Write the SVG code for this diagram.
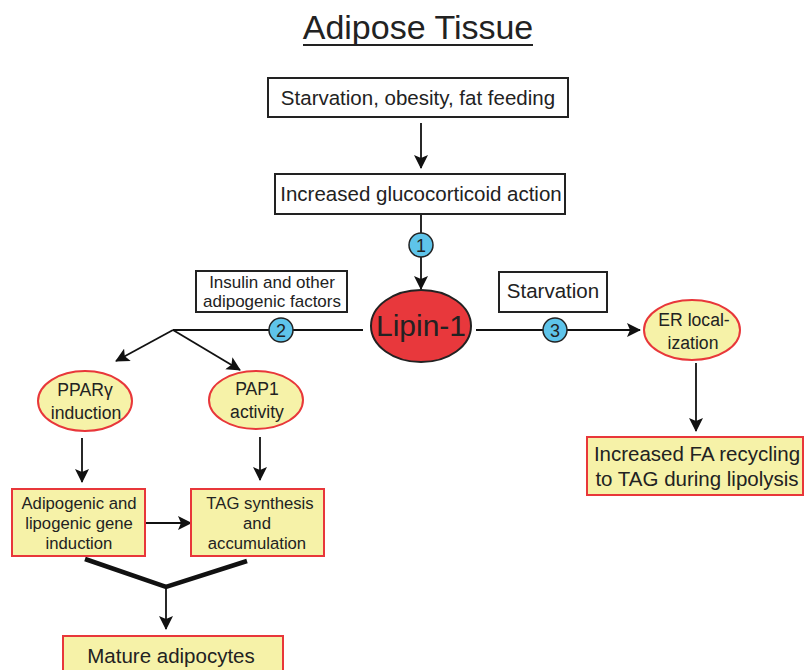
<svg xmlns="http://www.w3.org/2000/svg" width="804" height="670" viewBox="0 0 804 670">
<defs>
<marker id="ahb" viewBox="0 0 14 14" refX="13" refY="7" markerWidth="14" markerHeight="14" markerUnits="userSpaceOnUse" orient="auto">
<path d="M0,0 L14,7 L0,14 L3,7 Z" fill="#111"/>
</marker>
</defs>
<style>
text{font-family:"Liberation Sans",Arial,sans-serif;fill:#222;text-anchor:middle}
.wbox{fill:#fff;stroke:#222;stroke-width:2}
.ybox{fill:#f6f2a8;stroke:#e8373a;stroke-width:2}
.yell{fill:#f6f2a8;stroke:#e8373a;stroke-width:2}
.num{fill:#5ec4ea;stroke:#222;stroke-width:1.5}
.ln{stroke:#111;stroke-width:1.8;fill:none}
.lna{stroke:#111;stroke-width:1.8;fill:none;marker-end:url(#ahb)}
.t20{font-size:20.5px}
.t17{font-size:17px}
.t16{font-size:16.7px}
.te{font-size:17.6px}
.tn{font-size:18px}
</style>
<rect width="804" height="670" fill="#fff"/>
<g id="title">
<text x="418" y="39" font-size="34">Adipose Tissue</text>
<line x1="303" y1="45" x2="533" y2="45" stroke="#222" stroke-width="2"/>
</g>
<g id="connectors">
<line class="lna" x1="421" y1="123" x2="421" y2="168"/>
<line class="lna" x1="421" y1="215" x2="421" y2="289"/>
<line class="ln" x1="173" y1="330" x2="363" y2="330"/>
<line class="lna" x1="173" y1="330" x2="116" y2="361"/>
<line class="lna" x1="173" y1="330" x2="240" y2="370"/>
<line class="lna" x1="476" y1="330" x2="640" y2="330"/>
<line class="lna" x1="82" y1="438" x2="82" y2="482"/>
<line class="lna" x1="260" y1="437" x2="260" y2="480"/>
<line class="lna" x1="145" y1="523" x2="191" y2="523"/>
<polyline points="85,559 166,587 247,561" fill="none" stroke="#111" stroke-width="4.5" stroke-linejoin="miter"/>
<line class="lna" x1="166" y1="587" x2="166" y2="629"/>
<line class="lna" x1="696" y1="363" x2="696" y2="431"/>
</g>
<g id="n-starv-obesity">
<rect class="wbox" x="268" y="78" width="300" height="39"/>
<text class="t20" x="418" y="105">Starvation, obesity, fat feeding</text>
</g>
<g id="n-glucocorticoid">
<rect class="wbox" x="275" y="174" width="290" height="40"/>
<text class="t20" x="421" y="201">Increased glucocorticoid action</text>
</g>
<g id="c1">
<circle class="num" cx="421" cy="245" r="12"/>
<text class="tn" x="421" y="251.5">1</text>
</g>
<g id="n-insulin">
<rect class="wbox" x="196" y="271" width="151" height="41"/>
<text class="t17" x="272" y="288">Insulin and other</text>
<text class="t17" x="272" y="307">adipogenic factors</text>
</g>
<g id="c2">
<circle class="num" cx="281" cy="330" r="12"/>
<text class="tn" x="281" y="336.5">2</text>
</g>
<g id="n-lipin">
<ellipse cx="421" cy="326" rx="50" ry="36" fill="#e8383c" stroke="#222" stroke-width="2"/>
<text x="421" y="336" font-size="30" fill="#1a1a1a">Lipin-1</text>
</g>
<g id="n-starvation">
<rect class="wbox" x="499" y="272" width="108" height="40"/>
<text class="t20" x="553" y="298">Starvation</text>
</g>
<g id="c3">
<circle class="num" cx="555" cy="330" r="12"/>
<text class="tn" x="555" y="336.5">3</text>
</g>
<g id="n-er">
<ellipse class="yell" cx="692" cy="330" rx="48" ry="30"/>
<text class="te" x="694" y="326">ER local-</text>
<text class="te" x="693" y="349">ization</text>
</g>
<g id="n-fa-recycling">
<rect class="ybox" x="587" y="437" width="216" height="58"/>
<text class="t20" x="697" y="461">Increased FA recycling</text>
<text class="t20" x="697" y="486">to TAG during lipolysis</text>
</g>
<g id="n-ppar">
<ellipse class="yell" cx="85" cy="401" rx="47" ry="30"/>
<text class="te" x="85" y="396">PPARγ</text>
<text class="te" x="86" y="419">induction</text>
</g>
<g id="n-pap1">
<ellipse class="yell" cx="256" cy="400" rx="47" ry="29"/>
<text class="te" x="257" y="395">PAP1</text>
<text class="te" x="257" y="418">activity</text>
</g>
<g id="n-adipogenic">
<rect class="ybox" x="12" y="489" width="133" height="67"/>
<text class="t16" x="79" y="509">Adipogenic and</text>
<text class="t16" x="79" y="529">lipogenic gene</text>
<text class="t16" x="79" y="549">induction</text>
</g>
<g id="n-tag">
<rect class="ybox" x="191" y="489" width="133" height="67"/>
<text class="t16" x="260" y="509">TAG synthesis</text>
<text class="t16" x="257" y="529">and</text>
<text class="t16" x="257" y="549">accumulation</text>
</g>
<g id="n-mature">
<rect class="ybox" x="63" y="636" width="220" height="40"/>
<text class="t20" x="171" y="663">Mature adipocytes</text>
</g>
</svg>
